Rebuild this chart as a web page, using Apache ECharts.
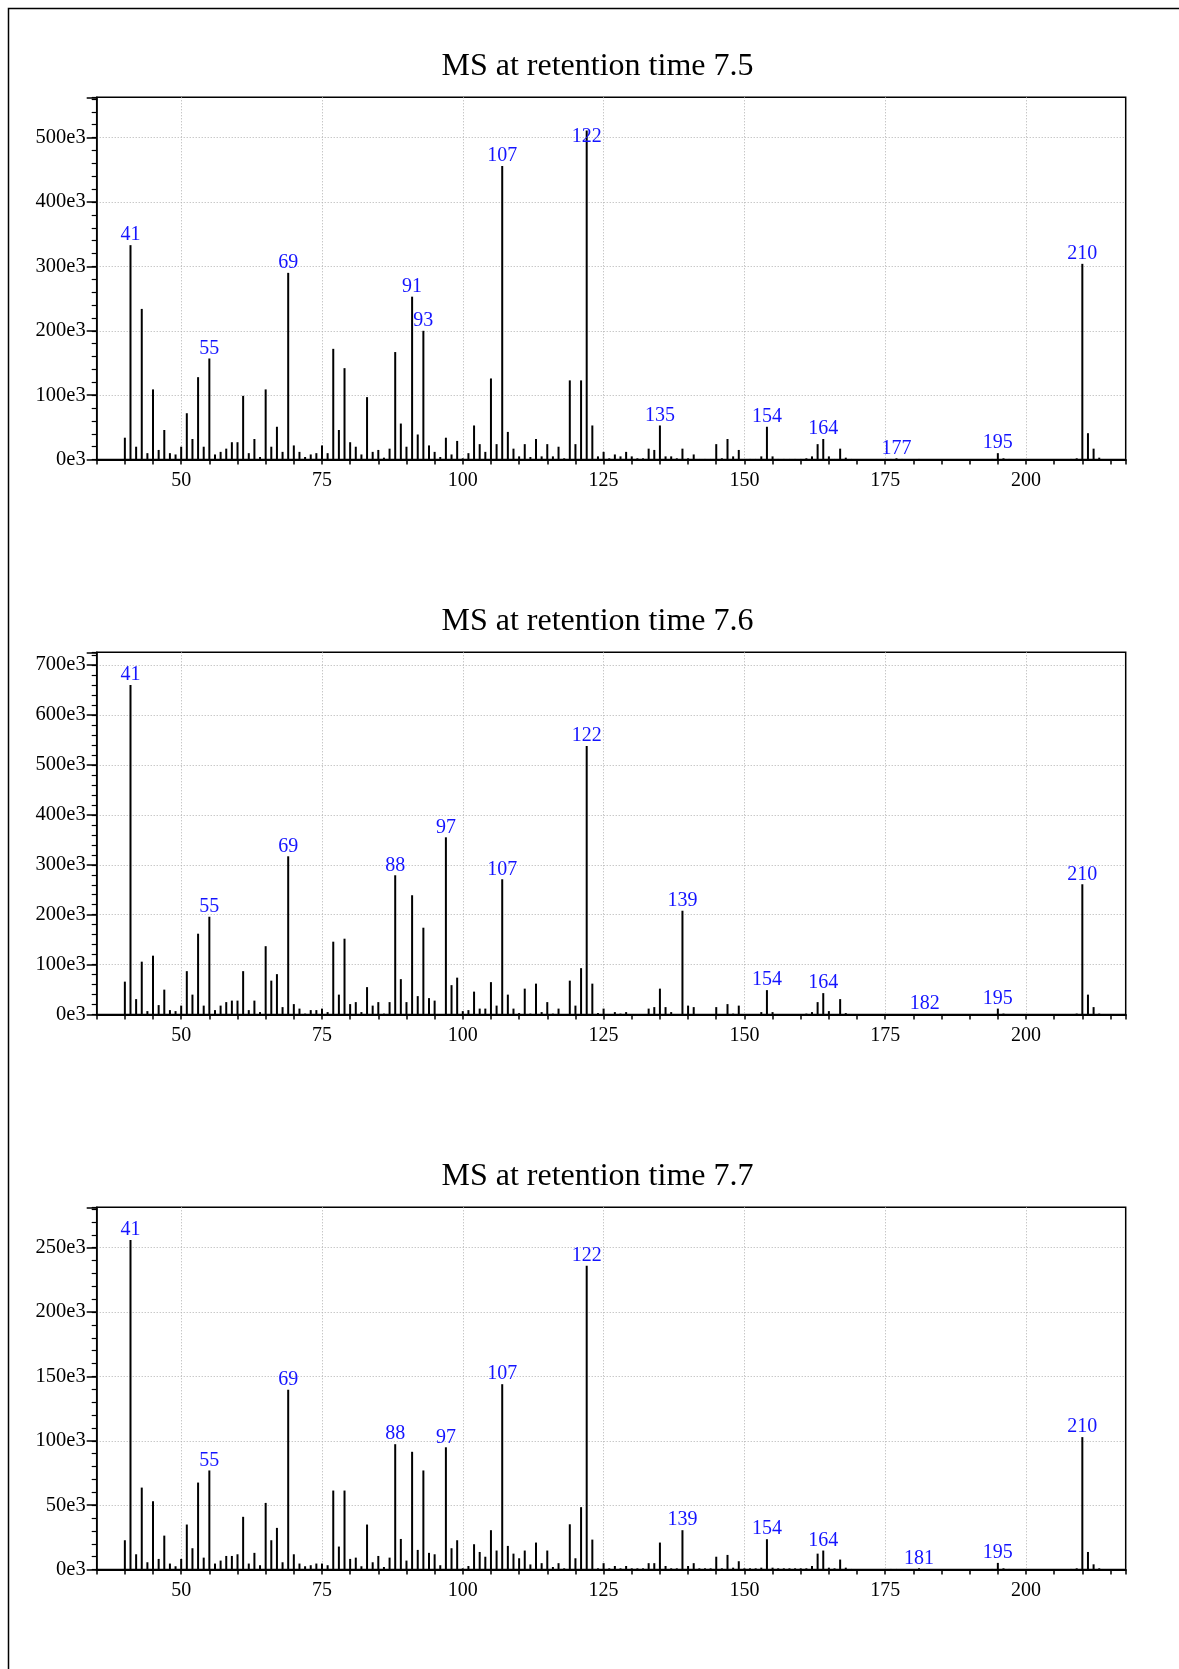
<!DOCTYPE html>
<html>
<head>
<meta charset="utf-8">
<script src="https://cdn.jsdelivr.net/npm/echarts@6/dist/echarts.min.js"></script>
<style>
html,body{margin:0;padding:0;background:#fff;}
#chart{width:1179px;height:1669px;}
</style>
</head>
<body>
<div id="chart"></div>
<script>
// m/z values (x categories)
const mz = [
  40,41,42,43,44,45,46,47,48,49,
  50,51,52,53,54,55,56,57,58,59,
  60,61,62,63,64,65,66,67,68,69,
  70,71,72,73,74,75,76,77,78,79,
  80,81,82,83,84,85,86,87,88,89,
  90,91,92,93,94,95,96,97,98,99,
  100,101,102,103,104,105,106,107,108,109,
  110,111,112,113,114,115,116,117,118,119,
  120,121,122,123,124,125,126,127,128,129,
  130,131,132,133,134,135,136,137,138,139,
  140,141,142,143,144,145,146,147,148,149,
  150,151,152,153,154,155,156,157,158,159,
  160,161,162,163,164,165,166,167,168,169,
  170,171,172,173,174,175,176,177,178,179,
  180,181,182,183,184,185,186,187,188,189,
  190,191,192,193,194,195,196,197,198,199,
  200,201,202,203,204,205,206,207,208,209,
  210,211,212,213
];

// intensities in thousands (e3)
const ms75 = [
  34,333,20,234,10,109,15,46,10,8,
  20,72,32,128,20,157,8,12,17,27,
  27,99,10,32,4,109,20,51,12,290,
  22,12,4,8,10,22,10,172,46,142,
  27,20,8,97,12,15,3,17,167,56,
  20,253,39,200,22,12,4,34,8,29,
  2,10,53,24,12,126,24,456,43,17,
  5,24,4,32,5,24,5,20,2,123,
  24,123,511,53,5,12,2,8,5,12,
  5,2,2,17,15,53,5,5,2,17,
  2,8,1,1,1,24,2,32,5,15,
  1,1,1,5,51,5,1,1,1,1,
  1,2,5,24,32,5,1,17,3,1,
  0,0,0,0,0,1,1,2,1,0,
  0,1,0,0,0,0,0,0,0,0,
  0,0,0,0,1,10,2,1,0,0,
  0,0,0,0,0,0,0,0,1,2,
  304,41,17,3
];
const ms76 = [
  66,660,31,106,7,118,19,50,9,7,
  18,87,40,162,18,196,9,18,25,28,
  28,87,9,28,5,137,68,81,15,317,
  21,12,2,9,9,12,5,146,40,152,
  21,25,5,55,18,25,2,25,279,71,
  25,239,37,174,33,28,1,355,59,74,
  7,9,46,12,12,65,18,271,40,12,
  3,52,2,62,5,25,2,12,1,68,
  18,93,538,62,3,12,1,5,2,5,
  1,1,1,12,15,52,15,5,1,208,
  18,15,1,1,1,15,1,21,2,18,
  1,1,1,5,49,5,1,1,1,1,
  1,2,5,25,43,7,1,31,3,1,
  0,0,0,0,0,1,1,1,0,0,
  0,1,1,0,0,0,0,0,0,0,
  0,0,0,0,1,12,2,1,0,0,
  0,0,0,0,0,0,0,0,1,2,
  261,40,15,2
];
const ms77 = [
  22.8,256,11.9,63.7,5.7,53.1,8.3,26.4,4.7,2.6,
  8.3,35,16.6,67.6,9.3,77,4.7,7,10.6,10.6,
  11.9,41,4.7,13,3.4,51.8,22.8,32.4,5.7,139.7,
  11.9,4.7,2.6,3.4,4.7,4.7,3.4,61.4,17.9,61.4,
  8.3,9.3,2.6,35,5.7,10.6,2,9.3,97.4,23.8,
  7,91.5,15.3,77,13,11.9,3.4,95,16.6,22.8,
  1,2.8,19.7,13.7,10,30.6,14.8,144,18.4,12.4,
  8.8,14.8,4,21,5,14.8,2,5,1,35.2,
  8.8,48.5,236,23.3,1,5,1,2.8,1,2.8,
  1,1,1,5,5,21,2.8,1,1,30.6,
  2.8,5,1,1,1,10,1,11.4,1.5,6.5,
  1,1,1,1.5,23.6,1.5,1,1,1,1,
  1,1,2.8,12.4,14.8,1.5,1,7.8,1.5,0.5,
  0,0,0,0,0,0.5,0.5,0.5,0,0,
  0,1,0.5,0,0,0,0,0,0,0,
  0,0,0,0,0.5,5.2,1,0.5,0,0,
  0,0,0,0,0,0,0,0,0.5,1,
  102.9,13.7,4.1,1
];

// annotated peaks
const labels75 = [41,55,69,91,93,107,122,135,154,164,177,195,210];
const labels76 = [41,55,69,88,97,107,122,139,154,164,182,195,210];
const labels77 = [41,55,69,88,97,107,122,139,154,164,181,195,210];

const titles = ['MS at retention time 7.5','MS at retention time 7.6','MS at retention time 7.7'];
const yMaxE3 = [562.6, 725.5, 281.4];
const yMajorE3 = [100, 100, 50];
const yMinorE3 = [20, 20, 10];
const xMin = 35, xMax = 217.7, xTickStep = 5, xLabelStep = 25;

const FONT = '"Liberation Serif", "Times New Roman", serif';
const BLUE = '#1414ff';
const GRIDC = '#b0b0b0';
const T = 'rgba(0,0,0,0)';
const gridTops = [97.3, 652.3, 1207.3];
const gridLeft = 96.7, gridWidth = 1029, gridHeight = 362.3;

const panels = [
  {values: ms75, labels: labels75},
  {values: ms76, labels: labels76},
  {values: ms77, labels: labels77}
];
// a label that sits lower over its bar in the original
const labelNudge = [{122: 16}, {}, {}];

const option = {
  animation: false,
  backgroundColor: '#fff',
  grid: [], xAxis: [], yAxis: [], series: [], graphic: []
};

option.graphic.push({
  type: 'rect', silent: true,
  shape: {x: 8.5, y: 8.5, width: 1400, height: 1900},
  style: {fill: 'none', stroke: '#000', lineWidth: 1.5}
});

panels.forEach((p, i) => {
  const major = yMajorE3[i];
  option.grid.push({
    left: gridLeft, top: gridTops[i], width: gridWidth, height: gridHeight,
    show: true, borderColor: '#000', borderWidth: 1.5, backgroundColor: 'transparent'
  });
  option.xAxis.push({
    type: 'value', gridIndex: i, position: 'bottom',
    min: xMin, max: xMax, interval: xTickStep,
    axisLine: {show: true, onZero: false, lineStyle: {color: '#000', width: 2}},
    axisTick: {show: true, inside: false, length: 5, lineStyle: {color: '#000', width: 1.5}},
    axisLabel: {
      show: true, margin: 11, color: '#000', fontFamily: FONT, fontSize: 20,
      showMinLabel: true, showMaxLabel: true,
      formatter: v => (Math.abs(v % xLabelStep) < 1e-6 ? String(v) : '')
    },
    splitLine: {show: true, lineStyle: {color: [T, T, T, GRIDC, T], type: [1, 2], width: 1}}
  });
  option.yAxis.push({
    type: 'value', gridIndex: i, position: 'left',
    min: 0, max: yMaxE3[i], interval: major,
    axisLine: {show: true, onZero: false, lineStyle: {color: '#000', width: 1.5}},
    axisTick: {show: true, inside: false, length: 10, lineStyle: {color: '#000', width: 1.5}},
    axisLabel: {
      show: true, margin: 11, color: '#000', fontFamily: FONT, fontSize: 20.5,
      formatter: v => (Math.abs(v % major) < 1e-6 ? v + 'e3' : '')
    },
    splitLine: {show: true, showMinLine: false, showMaxLine: false,
      lineStyle: {color: GRIDC, type: [1, 2], width: 1}}
  });
  option.yAxis.push({
    type: 'value', gridIndex: i, position: 'left',
    min: 0, max: yMaxE3[i], interval: yMinorE3[i],
    axisLine: {show: false},
    axisTick: {show: true, inside: false, length: 5, lineStyle: {color: '#000', width: 1.2}},
    axisLabel: {show: false},
    splitLine: {show: false}
  });
  const data = [];
  mz.forEach((m, k) => {
    const v = p.values[k];
    const item = {value: [m, v]};
    if (p.labels.indexOf(m) >= 0) {
      item.label = {show: true};
      if (labelNudge[i][m]) item.label.offset = [0, labelNudge[i][m]];
    }
    data.push(item);
  });
  option.series.push({
    type: 'bar', xAxisIndex: i, yAxisIndex: 2 * i,
    barWidth: 2, silent: true,
    itemStyle: {color: '#000'},
    label: {
      show: false, position: 'top', distance: 0, color: BLUE,
      fontFamily: FONT, fontSize: 20,
      formatter: q => String(q.value[0])
    },
    data: data
  });
  option.graphic.push({
    type: 'text', silent: true,
    x: 597.5, y: gridTops[i] - 31,
    style: {
      text: titles[i], fill: '#000',
      font: '32px ' + FONT,
      textAlign: 'center', textVerticalAlign: 'middle'
    }
  });
});

const chart = echarts.init(document.getElementById('chart'), null, {renderer: 'canvas'});
chart.setOption(option);
</script>
</body>
</html>
